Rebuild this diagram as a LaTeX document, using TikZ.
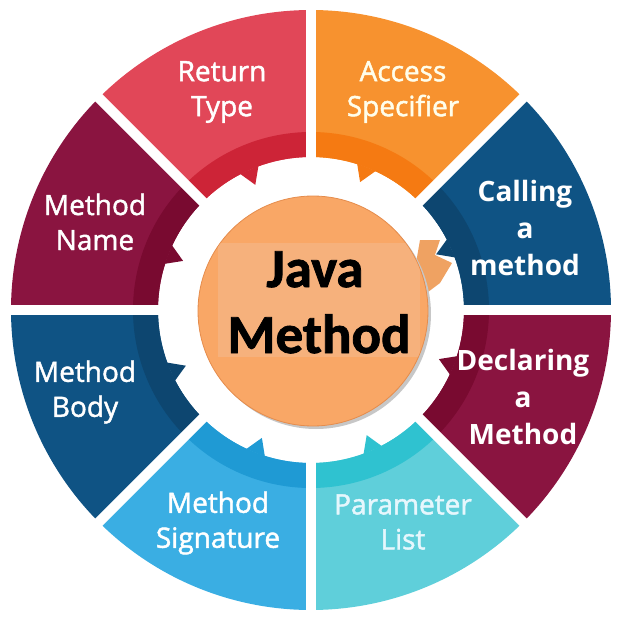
\documentclass[tikz,border=0pt]{standalone}
\usepackage{fontspec}
\setmainfont{Open Sans}
\newfontfamily\semifont[FakeBold=1.6]{Open Sans}
\newfontfamily\javafont[BoldFeatures={FakeBold=1.5}]{Carlito}
\definecolor{rtmain}{HTML}{E14758}\definecolor{rtband}{HTML}{CD2437}
\definecolor{asmain}{HTML}{F7922F}\definecolor{asband}{HTML}{F57A12}
\definecolor{blmain}{HTML}{0F5384}\definecolor{blband}{HTML}{0D4670}
\definecolor{wnmain}{HTML}{8A1440}\definecolor{wnband}{HTML}{790A30}
\definecolor{plmain}{HTML}{5FCFDA}\definecolor{plband}{HTML}{2FC2D0}
\definecolor{msmain}{HTML}{3AAEE3}\definecolor{msband}{HTML}{1F9AD4}
\definecolor{ctrfill}{HTML}{F9A766}\definecolor{ctrrect}{HTML}{F6B17C}
\definecolor{ctredge}{HTML}{E58C4C}\definecolor{patch}{HTML}{EFA262}
\tikzset{
  seglabel/.style={text=white, align=center, font=\semifont\fontsize{28}{35}\selectfont},
  seglabelb/.style={text=white, align=center, font=\bfseries\fontsize{28}{37}\selectfont},
  javalabel/.style={text=black, anchor=base, font=\javafont\bfseries\fontsize{55}{60}\selectfont},
}
\begin{document}
\begin{tikzpicture}[x=1pt,y=1pt]
\useasboundingbox (-311,-312) rectangle (311,310);
% orange patch near "Calling a method"
\fill[patch] (109,70) -- (129,70) -- (124,55) -- (141,47) -- (129,27) -- (117,18) -- (100,18) -- cycle;
% segments: start angle / main / band
\foreach \a/\m/\b in {90/rtmain/rtband, 45/asmain/asband, 0/blmain/blband, -45/wnmain/wnband,
  -90/plmain/plband, -135/msmain/msband, 180/blmain/blband, 135/wnmain/wnband}{
  \fill[\m] (\a:153) -- (\a:300) arc[start angle=\a, end angle=\a+45, radius=300]
     -- (\a+45:153) arc[start angle=\a+45, end angle=\a, radius=153] -- cycle;
  \fill[\b] (\a:153) -- (\a:178) arc[start angle=\a, end angle=\a+45, radius=178]
     -- (\a+45:153) arc[start angle=\a+45, end angle=\a, radius=153] -- cycle;
  \fill[\b] (\a+20:153.5) -- (\a+24:137) -- (\a+27.5:153.5) -- cycle;
}
% gaps
\foreach \a in {0,45,...,315}{
  \draw[white, line width=10pt] (\a:140) -- (\a:320);
}
% center circle
\fill[black!22] (5,-4) circle[radius=115];
\fill[ctrfill, draw=ctredge, line width=0.8pt] (2,-1) circle[radius=115];
\begin{scope}
  \clip (2,-1) circle[radius=114.5];
  \fill[ctrrect] (-93,67) rectangle (109,-47);
\end{scope}
\node[javalabel] (java) at (4,23) {Java};
\node[javalabel] (method) at (8,-43) {Method};
% labels
\node[seglabel] (rt) at (-89,218) {Return\\Type};
\node[seglabel, text=white!92!yellow] (as) at (92,218) {Access\\Specifier};
\node[seglabelb] (cm) at (214,82) {Calling\\a\\method};
\node[seglabelb] (dm) at (212,-87) {Declaring\\a\\Method};
\node[seglabel, text=white!90!cyan] (pl) at (92,-212) {Parameter\\List};
\node[seglabel] (ms) at (-93,-213) {Method\\Signature};
\node[seglabel] (mb) at (-226,-82) {Method\\Body};
\node[seglabel] (mn) at (-216,88) {Method\\Name};
\end{tikzpicture}
\end{document}
